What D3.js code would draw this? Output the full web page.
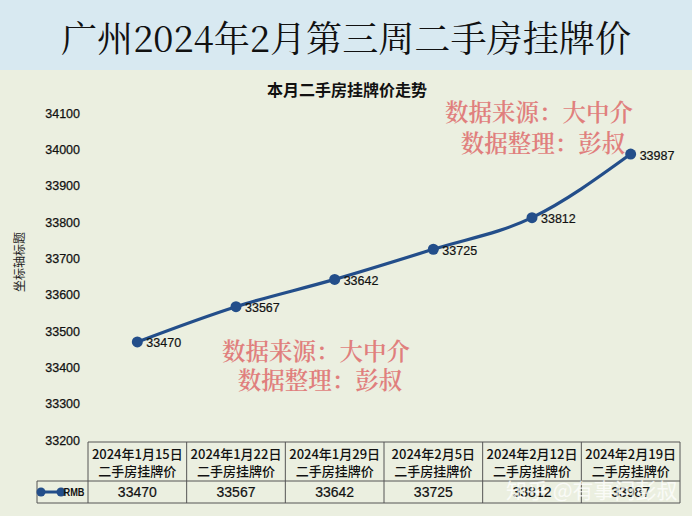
<!DOCTYPE html>
<html>
<head>
<meta charset="utf-8">
<script src="https://cdn.jsdelivr.net/npm/d3@7"></script>
<style>
  html, body { margin: 0; padding: 0; background: #ebefe0; }
  svg { display: block; }
</style>
</head>
<body>
<svg id="chart" width="692" height="516"></svg>
<script>
const mainTitle = "广州2024年2月第三周二手房挂牌价";
const chartTitle = "本月二手房挂牌价走势";
const yAxisTitle = "坐标轴标题";
const dates = ["2024年1月15日", "2024年1月22日", "2024年1月29日", "2024年2月5日", "2024年2月12日", "2024年2月19日"];
const subLabel = "二手房挂牌价";
const seriesName = "RMB";
const values = [33470, 33567, 33642, 33725, 33812, 33987];
const yTicks = [33200, 33300, 33400, 33500, 33600, 33700, 33800, 33900, 34000, 34100];
const watermarkLines = ["数据来源：大中介", "数据整理：彭叔"];
const siteMark = "知乎 @有事问彭叔";

const svg = d3.select("#chart");
const W = 692, H = 516;
const lineColor = "#234e8a";
const cjk = "'Noto Sans CJK SC', 'Noto Sans', sans-serif";
const latin = "'Liberation Sans', Arial, sans-serif";

// backgrounds
svg.append("rect").attr("x", 0).attr("y", 0).attr("width", W).attr("height", H).attr("fill", "#ebefe0");
svg.append("rect").attr("x", 0).attr("y", 0).attr("width", W).attr("height", 70).attr("fill", "#d8e9f1");

svg.append("text")
  .attr("x", 346).attr("y", 52)
  .attr("text-anchor", "middle")
  .attr("font-family", "'Noto Serif CJK SC', 'Noto Sans CJK SC', serif")
  .attr("font-size", 36)
  .attr("textLength", 570).attr("lengthAdjust", "spacingAndGlyphs")
  .attr("fill", "#111")
  .text(mainTitle);

svg.append("text")
  .attr("x", 347).attr("y", 96)
  .attr("text-anchor", "middle")
  .attr("font-family", cjk).attr("font-weight", "bold")
  .attr("font-size", 16).attr("fill", "#111")
  .text(chartTitle);

// scales
const x = d3.scaleBand().domain(dates).range([88, 680]).padding(0);
const cx = d => x(d) + x.bandwidth() / 2;
const y = d3.scaleLinear().domain([33200, 34100]).range([440, 113]);

// y axis
const yAxis = d3.axisLeft(y).tickValues(yTicks).tickSize(0).tickPadding(0).tickFormat(d3.format("d"));
const gy = svg.append("g").attr("transform", "translate(80,0)").call(yAxis);
gy.select(".domain").remove();
gy.selectAll("text")
  .attr("font-family", latin).attr("font-size", 12.5).attr("fill", "#111")
  .attr("stroke", "#111").attr("stroke-width", 0.25);

svg.append("text")
  .attr("transform", "translate(24,262) rotate(-90)")
  .attr("text-anchor", "middle")
  .attr("font-family", cjk).attr("font-size", 12).attr("fill", "#222")
  .text(yAxisTitle);

// watermarks
function watermark(cxp, y1, y2) {
  const g = svg.append("g").attr("fill", "#e07f7d")
    .attr("font-family", "'Noto Serif CJK SC', 'Noto Sans CJK SC', serif")
    .attr("font-weight", 600)
    .attr("font-size", 23.5).attr("text-anchor", "middle");
  g.append("text").attr("x", cxp).attr("y", y1).text(watermarkLines[0]);
  g.append("text").attr("x", cxp + 4).attr("y", y2).text(watermarkLines[1]);
}
watermark(539, 121, 152);
watermark(316, 360, 389);

// line
const data = dates.map((d, i) => ({ d, v: values[i] }));
const line = d3.line().x(p => cx(p.d)).y(p => y(p.v)).curve(d3.curveMonotoneX);
svg.append("path").datum(data)
  .attr("d", line).attr("fill", "none")
  .attr("stroke", lineColor).attr("stroke-width", 3.2);
svg.selectAll("circle.pt").data(data).enter().append("circle")
  .attr("class", "pt")
  .attr("cx", p => cx(p.d)).attr("cy", p => y(p.v)).attr("r", 5.5)
  .attr("fill", lineColor);
svg.selectAll("text.lbl").data(data).enter().append("text")
  .attr("class", "lbl")
  .attr("x", p => cx(p.d) + 9).attr("y", p => y(p.v) + 5.5)
  .attr("font-family", latin).attr("font-size", 12.5).attr("fill", "#111")
  .attr("stroke", "#111").attr("stroke-width", 0.2)
  .text(p => p.v);

// data table
const tTop = 442, tMid = 481, tBot = 503;
const tg = svg.append("g");
const stroke = "#555";
const x0 = x.range()[0], x1 = x.range()[1];
tg.append("line").attr("x1", x0).attr("x2", x1).attr("y1", tTop).attr("y2", tTop).attr("stroke", stroke);
tg.append("line").attr("x1", 37).attr("x2", x1).attr("y1", tMid).attr("y2", tMid).attr("stroke", stroke);
tg.append("line").attr("x1", 37).attr("x2", x1).attr("y1", tBot).attr("y2", tBot).attr("stroke", stroke);
tg.append("line").attr("x1", 37).attr("x2", 37).attr("y1", tMid).attr("y2", tBot).attr("stroke", stroke);
dates.concat([null]).forEach((d, i) => {
  const xx = d ? x(d) : x1;
  tg.append("line").attr("x1", xx).attr("x2", xx).attr("y1", tTop).attr("y2", tBot).attr("stroke", stroke);
});
data.forEach(p => {
  tg.append("text").attr("x", cx(p.d)).attr("y", 459)
    .attr("text-anchor", "middle").attr("font-family", cjk).attr("font-weight", 500).attr("font-size", 13).attr("fill", "#111")
    .text(p.d);
  tg.append("text").attr("x", cx(p.d)).attr("y", 476)
    .attr("text-anchor", "middle").attr("font-family", cjk).attr("font-weight", 500).attr("font-size", 13).attr("fill", "#111")
    .text(subLabel);
  tg.append("text").attr("x", cx(p.d)).attr("y", 497)
    .attr("text-anchor", "middle").attr("font-family", latin).attr("font-size", 14).attr("fill", "#111")
    .attr("stroke", "#111").attr("stroke-width", 0.2)
    .text(p.v);
});
// legend key
const ly = (tMid + tBot) / 2;
tg.append("line").attr("x1", 41).attr("x2", 61).attr("y1", ly).attr("y2", ly).attr("stroke", lineColor).attr("stroke-width", 3);
tg.append("circle").attr("cx", 41).attr("cy", ly).attr("r", 4.5).attr("fill", lineColor);
tg.append("circle").attr("cx", 61).attr("cy", ly).attr("r", 4.5).attr("fill", lineColor);
tg.append("text").attr("x", 74).attr("y", ly + 4).attr("text-anchor", "middle")
  .attr("font-family", latin).attr("font-weight", "bold").attr("font-size", 10)
  .attr("textLength", 21).attr("lengthAdjust", "spacingAndGlyphs").attr("fill", "#111")
  .text(seriesName);

// site watermark
svg.append("text").attr("x", 506).attr("y", 498)
  .attr("font-family", cjk).attr("font-size", 21).attr("fill", "#ffffff").attr("opacity", 0.75)
  .text(siteMark);
</script>
</body>
</html>
